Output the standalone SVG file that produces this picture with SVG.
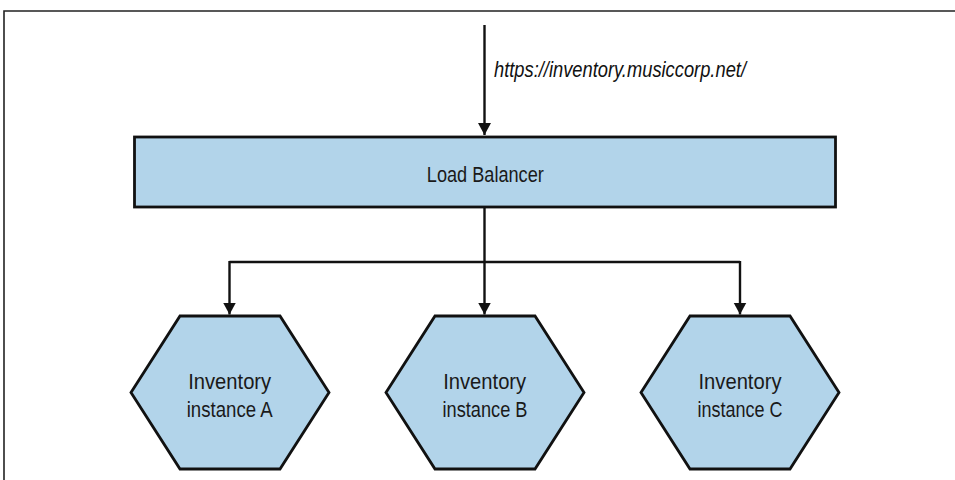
<svg xmlns="http://www.w3.org/2000/svg" width="955" height="480" viewBox="0 0 955 480">
<defs>
<style>
.node{fill:#b2d4ea;stroke:#111;stroke-width:2.8;stroke-linejoin:miter}
.lbl{font-family:"Liberation Sans",Arial,sans-serif;font-size:22px;fill:#1a1a1a;text-anchor:middle}
.url{font-family:"Liberation Sans",Arial,sans-serif;font-size:22px;font-style:italic;fill:#111}
.edge{fill:none;stroke:#111;stroke-width:2.4}
.frame{fill:none;stroke:#222;stroke-width:1.6}
</style>
<marker id="arr" markerUnits="userSpaceOnUse" markerWidth="14" markerHeight="14" refX="12" refY="6.5" orient="auto">
<path d="M0,0 L12,6.5 L0,13 Z" fill="#111"/>
</marker>
</defs>
<rect width="955" height="480" fill="#fff"/>
<path class="frame" d="M4,480 V11 H955"/>
<g id="connectors">
<line class="edge" x1="484.5" y1="25" x2="484.5" y2="135" marker-end="url(#arr)"/>
<path class="edge" d="M484.5,208 V262"/>
<path class="edge" d="M229.5,262 H740"/>
<line class="edge" x1="229.5" y1="261" x2="229.5" y2="314.5" marker-end="url(#arr)"/>
<line class="edge" x1="484.5" y1="262" x2="484.5" y2="314.5" marker-end="url(#arr)"/>
<line class="edge" x1="740" y1="261" x2="740" y2="314.5" marker-end="url(#arr)"/>
<text class="url" x="494" y="77" textLength="252" lengthAdjust="spacingAndGlyphs">https://inventory.musiccorp.net/</text>
</g>
<g id="load-balancer">
<rect class="node" x="134.5" y="137" width="701" height="70"/>
<text class="lbl" x="485.3" y="181.7" textLength="117" lengthAdjust="spacingAndGlyphs">Load Balancer</text>
</g>
<g id="instance-a">
<polygon class="node" points="131,392.5 180,316 280,316 329,392.5 280,469 180,469"/>
<text class="lbl" x="229.7" y="389" textLength="83" lengthAdjust="spacingAndGlyphs">Inventory</text>
<text class="lbl" x="229.7" y="417" textLength="86" lengthAdjust="spacingAndGlyphs">instance A</text>
</g>
<g id="instance-b">
<polygon class="node" points="386,392.5 435,316 535,316 584,392.5 535,469 435,469"/>
<text class="lbl" x="484.7" y="389" textLength="83" lengthAdjust="spacingAndGlyphs">Inventory</text>
<text class="lbl" x="485" y="417" textLength="85" lengthAdjust="spacingAndGlyphs">instance B</text>
</g>
<g id="instance-c">
<polygon class="node" points="641,392.5 690,316 790,316 839,392.5 790,469 690,469"/>
<text class="lbl" x="740" y="389" textLength="83" lengthAdjust="spacingAndGlyphs">Inventory</text>
<text class="lbl" x="740" y="417" textLength="85" lengthAdjust="spacingAndGlyphs">instance C</text>
</g>
</svg>
